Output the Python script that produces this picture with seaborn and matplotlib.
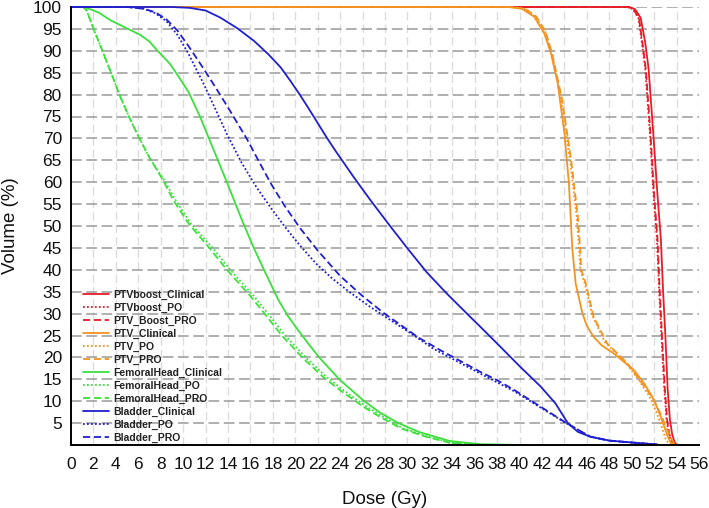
import numpy as np
import pandas as pd
import matplotlib
matplotlib.use("Agg")
import matplotlib.pyplot as plt
import seaborn as sns

# ---------------- data (dose Gy, volume %) ----------------
ptvboost_clin_d = [0, 49.8, 50.3, 50.8, 51.2, 51.5, 51.9, 52.3, 52.6, 52.8, 53.0, 53.2, 53.4, 53.6, 53.8, 54.0]
ptvboost_clin_v = [100, 100, 99.5, 97.5, 92, 86, 72, 57, 47, 35, 25, 13, 6, 2.5, 0.8, 0]
ptvboost_po_d = [0, 49.6, 50.1, 50.6, 50.9, 51.2, 51.6, 51.95, 52.25, 52.45, 52.65, 52.9, 53.1, 53.3, 53.55, 53.8]
ptvboost_po_v = [100, 100, 99.5, 97.5, 92, 86, 72, 57, 47, 35, 25, 13, 6, 2.5, 0.8, 0]
ptvboost_pro_d = [0, 49.65, 50.15, 50.65, 50.95, 51.25, 51.65, 52.0, 52.3, 52.5, 52.7, 52.95, 53.15, 53.35, 53.6, 53.85]
ptvboost_pro_v = [100, 100, 99.5, 97.5, 92, 86, 72, 57, 47, 35, 25, 13, 6, 2.5, 0.8, 0]

ptv_clin_d = [0, 39.0, 40.2, 41.3, 42.2, 42.8, 43.4, 44.0, 44.4, 44.7, 45.0, 45.6, 46.0, 46.6, 47.3, 48.4, 50.2, 51.1, 52.0, 52.5, 52.9, 53.2, 53.5, 53.8]
ptv_clin_v = [100, 100, 99.6, 97.8, 94, 89.4, 82.6, 71.2, 59.7, 44.9, 36.9, 30.1, 27.2, 24.7, 22.8, 20.9, 17.1, 14.1, 10.3, 7, 4.2, 2, 0.4, 0]
ptv_po_d = [0, 39.2, 40.4, 41.4, 42.3, 42.9, 43.7, 44.5, 45.1, 45.3, 45.4, 45.8, 46.5, 47.6, 49.4, 50.6, 51.6, 52.2, 52.7, 53.0, 53.3, 53.5]
ptv_po_v = [100, 100, 99.6, 97.8, 94.3, 89.4, 79, 65, 52, 45, 40, 37, 29.5, 23.5, 19, 15, 11, 7.5, 4, 1.5, 0.3, 0]
ptv_pro_d = [0, 39.3, 40.5, 41.5, 42.3, 42.9, 43.8, 44.6, 45.2, 45.4, 45.5, 45.9, 46.6, 47.8, 49.6, 50.8, 51.8, 52.5, 53.1, 53.5, 53.8, 54.0]
ptv_pro_v = [100, 100, 99.6, 97.8, 94.5, 89.4, 78.8, 65, 52.1, 44.9, 40, 36.9, 29.3, 23.2, 18.7, 14.5, 11, 7.5, 4, 1.5, 0.3, 0]

fh_clin_d = [0, 1.2, 2.5, 3.5, 5.0, 6.2, 7.0, 7.65, 8.8, 9.6, 10.5, 11.5, 12.3, 13.1, 13.9, 14.6, 15.3, 16.3, 17.3, 18.5, 19.3, 20.2, 21.2, 22.2, 24.0, 26.1, 27.5, 29.2, 31.0, 33.8, 36.5, 40.0]
fh_clin_v = [100, 100, 98.7, 97.0, 95.1, 93.6, 92.1, 90.2, 87.1, 84.1, 80.5, 75.0, 70.0, 65.0, 60.0, 55.5, 51.0, 45.0, 39.5, 33.1, 29.6, 26.4, 23.0, 19.8, 14.8, 10.1, 7.5, 5.0, 3.0, 0.9, 0.2, 0.0]
fh_po_d = [0, 1.1, 1.4, 2.0, 2.8, 3.6, 4.4, 5.2, 6.0, 7.0, 8.3, 9.3, 10.7, 12.7, 14.2, 16.3, 17.5, 19.1, 21.0, 22.8, 24.3, 26.4, 27.8, 29.6, 31.7, 33.9, 36.0]
fh_po_v = [100, 100, 99.2, 95.1, 90.0, 84.8, 79.5, 74.8, 70.5, 65.6, 60.5, 56.0, 50.5, 44.8, 40.0, 34.0, 30.2, 25.0, 19.8, 15.5, 12.5, 8.7, 6.5, 3.8, 2.0, 0.5, 0.0]
fh_pro_d = [0, 1.1, 1.4, 2.0, 2.8, 3.6, 4.4, 5.2, 6.0, 7.0, 8.2, 9.1, 10.5, 12.4, 13.9, 16.0, 17.2, 18.8, 20.7, 22.5, 24.0, 26.1, 27.5, 29.4, 31.5, 33.8, 36.0]
fh_pro_v = [100, 100, 99.2, 95.1, 90.0, 84.8, 79.5, 74.8, 70.5, 65.6, 60.5, 56.0, 50.5, 44.8, 40.0, 34.0, 30.2, 25.0, 19.8, 15.5, 12.5, 8.7, 6.5, 3.8, 2.0, 0.5, 0.0]

bl_clin_d = [0, 9.0, 10.6, 12.0, 13.3, 14.8, 16.3, 17.6, 18.7, 19.6, 20.4, 21.2, 22.0, 22.8, 23.6, 25.2, 26.7, 28.3, 30.0, 31.7, 33.5, 35.5, 36.5, 38.3, 40.0, 41.9, 43.2, 44.3, 45.2, 46.3, 48.0, 50.8, 52.3]
bl_clin_v = [100, 100, 99.8, 99.2, 97.6, 95.2, 92.3, 89.2, 86.2, 83.0, 80.0, 76.8, 73.5, 70.2, 67.1, 61.2, 55.9, 50.5, 44.9, 39.5, 34.6, 29.5, 27.0, 22.4, 18.0, 13.3, 9.5, 5.0, 3.0, 1.9, 1.0, 0.4, 0.1]
bl_po_d = [0, 5.0, 6.5, 7.5, 8.5, 9.5, 10.5, 11.8, 13.0, 13.9, 15.2, 16.5, 18.0, 19.2, 20.4, 21.9, 23.3, 24.9, 26.7, 28.5, 30.3, 32.3, 34.5, 36.5, 38.0, 39.5, 41.9, 44.0, 45.0, 46.3, 48.0, 50.8, 52.3]
bl_po_v = [100, 100, 99.6, 98.6, 96.8, 93.6, 89.2, 82.6, 76.0, 71.0, 64.5, 59.0, 53.5, 49.4, 45.6, 41.3, 38.0, 34.8, 31.5, 28.5, 25.5, 22.0, 19.0, 16.3, 14.3, 12.3, 8.5, 5.2, 3.8, 1.9, 1.0, 0.4, 0.1]
bl_pro_d = [0, 5.0, 6.5, 7.5, 8.5, 9.5, 10.5, 11.8, 13.0, 14.3, 15.7, 16.7, 17.8, 19.0, 20.4, 22.0, 24.0, 26.0, 27.9, 29.4, 31.0, 32.9, 34.7, 36.5, 38.0, 39.5, 41.9, 44.0, 45.0, 46.3, 48.0, 50.8, 52.3]
bl_pro_v = [100, 100, 99.6, 98.8, 97.2, 94.6, 91.0, 86.0, 81.2, 75.8, 69.8, 65.0, 59.8, 54.8, 49.6, 44.4, 38.6, 34.0, 30.1, 27.4, 24.5, 21.7, 19.2, 16.7, 14.8, 12.6, 8.7, 5.3, 3.8, 1.9, 1.0, 0.4, 0.1]

labels = ["PTVboost_Clinical", "PTVboost_PO", "PTV_Boost_PRO",
          "PTV_Clinical", "PTV_PO", "PTV_PRO",
          "FemoralHead_Clinical", "FemoralHead_PO", "FemoralHead_PRO",
          "Bladder_Clinical", "Bladder_PO", "Bladder_PRO"]
series = [(ptvboost_clin_d, ptvboost_clin_v), (ptvboost_po_d, ptvboost_po_v), (ptvboost_pro_d, ptvboost_pro_v),
          (ptv_clin_d, ptv_clin_v), (ptv_po_d, ptv_po_v), (ptv_pro_d, ptv_pro_v),
          (fh_clin_d, fh_clin_v), (fh_po_d, fh_po_v), (fh_pro_d, fh_pro_v),
          (bl_clin_d, bl_clin_v), (bl_po_d, bl_po_v), (bl_pro_d, bl_pro_v)]
x_ticks = list(range(0, 57, 2))
y_ticks = list(range(5, 101, 5))

# ---------------- style ----------------
sns.set_style("white")
plt.rcParams["font.family"] = ["Liberation Sans", "DejaVu Sans"]

def color_for(lab):
    if lab.startswith("PTVboost") or lab.startswith("PTV_Boost"):
        return "#E41E26"
    if lab.startswith("PTV_"):
        return "#F39322"
    if lab.startswith("Femoral"):
        return "#3BE03B"
    return "#1F1FCF"

def dash_for(lab):
    if lab.endswith("Clinical"):
        return None
    if lab.endswith("_PO"):
        return (1.0, 1.2)
    return (4.0, 2.0)

fig = plt.figure(figsize=(7.09, 5.08), dpi=100)
ax = fig.add_axes([71 / 709, 1 - 445 / 508, 628 / 709, 438 / 508])

for lab, (d, v) in zip(labels, series):
    df = pd.DataFrame({"Dose": d, "Volume": v})
    sns.lineplot(data=df, x="Dose", y="Volume", ax=ax, sort=False, estimator=None,
                 color=color_for(lab), linewidth=1.3, label=lab)
    ln = ax.lines[-1]
    ln.set_clip_on(False)
    ds = dash_for(lab)
    if ds is not None:
        ln.set_dashes(ds)

ax.set_xlim(0, 56)
ax.set_ylim(0, 100)
ax.set_xticks(x_ticks)
ax.set_yticks(y_ticks)
ax.tick_params(axis="both", direction="out", length=4.5, width=1, color="black",
               labelsize=12.5, pad=2, labelcolor="#111111")
ax.tick_params(axis="x", pad=4)

# grid
for y in y_ticks:
    ax.axhline(y, color="#9a9a9a", lw=1.1, dashes=(7.0, 3.0), zorder=0.5)
for x in x_ticks[1:]:
    ax.axvline(x, color="#dcdcdc", lw=1.0, dashes=(6.0, 3.0), zorder=0.4)

for s in ["top", "right"]:
    ax.spines[s].set_visible(False)
for s in ["left", "bottom"]:
    ax.spines[s].set_color("black")
    ax.spines[s].set_linewidth(1.4)

ax.set_xlabel("Dose (Gy)", fontsize=13.5, color="#111111")
ax.set_ylabel("Volume (%)", fontsize=13.5, color="#111111")
ax.xaxis.set_label_coords(0.5, -0.105)
ax.yaxis.set_label_coords(-0.083, 0.5)

handles, labs = ax.get_legend_handles_labels()
leg = ax.legend(handles, labs, loc="upper left", bbox_to_anchor=(0.019, 0.355),
                frameon=False, borderpad=0, borderaxespad=0, labelspacing=0.28,
                handlelength=2.5, handletextpad=0.45,
                prop={"size": 7.5, "weight": "bold"})
for t in leg.get_texts():
    t.set_color("#222222")

fig.savefig("out.png", dpi=100)
